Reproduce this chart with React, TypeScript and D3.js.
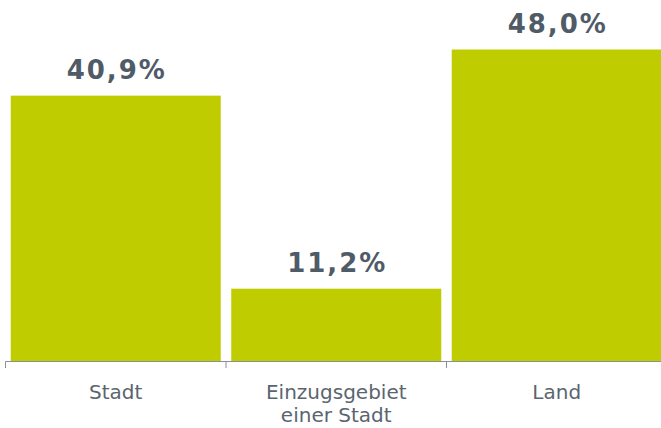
import React from "react";
import * as d3 from "d3";

const categories: string[][] = [["Stadt"], ["Einzugsgebiet", "einer Stadt"], ["Land"]];
const values: number[] = [40.9, 11.2, 48.0];
const valueLabels: string[] = ["40,9%", "11,2%", "48,0%"];

const W = 661;
const H = 428;
const baseY = 361.5;

export default function App() {
  const keys = categories.map((c) => c.join(" "));
  const x = d3
    .scaleBand<string>()
    .domain(keys)
    .range([5.5, 667])
    .paddingInner(0.0476)
    .paddingOuter(0.0238);
  const y = d3.scaleLinear().domain([0, 50]).range([baseY, baseY - 325]);
  const step = x.step();
  const start = 5.5;
  const tickXs = d3.range(keys.length + 1).map((i) => start + i * step);

  return (
    <svg
      width={W}
      height={H}
      style={{ position: "absolute", left: 0, top: 0, display: "block" }}
      fontFamily="'DejaVu Sans', Verdana, sans-serif"
    >
      {keys.map((k, i) => (
        <rect
          key={k}
          x={x(k)!}
          y={y(values[i])}
          width={x.bandwidth()}
          height={y(0) - y(values[i])}
          fill="#bfcd00"
        />
      ))}
      {keys.map((k, i) => (
        <text
          key={"v" + k}
          x={x(k)! + x.bandwidth() / 2 + 1}
          y={y(values[i]) - 16.5}
          textAnchor="middle"
          fontSize={26}
          fontWeight="bold"
          letterSpacing={2}
          fill="#4f5b67"
        >
          {valueLabels[i]}
        </text>
      ))}
      <line x1={start} x2={W + 10} y1={baseY} y2={baseY} stroke="#8a9099" strokeWidth={1} />
      {tickXs.map((tx, i) => (
        <line key={"t" + i} x1={tx} x2={tx} y1={baseY} y2={368} stroke="#8a9099" strokeWidth={1} />
      ))}
      {keys.map((k, i) => (
        <text
          key={"c" + k}
          x={x(k)! + x.bandwidth() / 2}
          y={399}
          textAnchor="middle"
          fontSize={20}
          fill="#5a6570"
        >
          {categories[i].map((line, j) => (
            <tspan key={j} x={x(k)! + x.bandwidth() / 2} dy={j === 0 ? 0 : 22.5}>
              {line}
            </tspan>
          ))}
        </text>
      ))}
    </svg>
  );
}
